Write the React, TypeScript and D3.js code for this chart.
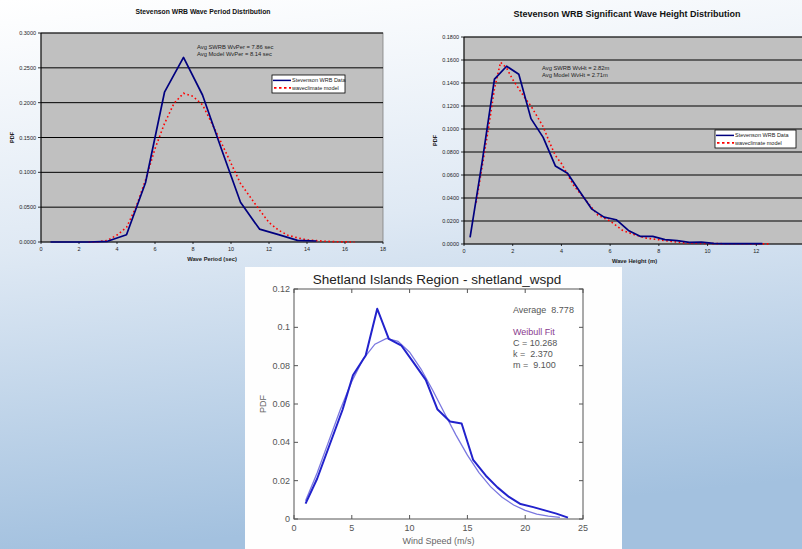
import React from 'react';
import * as d3 from 'd3';

// ---- chart 1: wave period ----
const periodX = [0.5, 1.5, 2.5, 3.5, 4.5, 5.5, 6.5, 7.5, 8.5, 9.5, 10.5, 11.5, 12.5, 13.5, 14.5];
const periodData = [0, 0, 0, 0.001, 0.0105, 0.085, 0.215, 0.265, 0.211, 0.133, 0.057, 0.0185, 0.0105, 0.0024, 0.0014];
const periodModelX = [2.5, 3, 3.5, 4, 4.5, 5, 5.5, 6, 6.5, 7, 7.5, 8, 8.5, 9, 9.5, 10, 10.5, 11, 11.5, 12, 12.5, 13, 13.5, 14, 14.5, 15, 15.5, 16, 16.5];
const periodModel = [0, 0.0003, 0.0024, 0.01, 0.021, 0.05, 0.089, 0.134, 0.17, 0.199, 0.2136, 0.209, 0.197, 0.17, 0.142, 0.113, 0.084, 0.065, 0.046, 0.028, 0.017, 0.0096, 0.006, 0.003, 0.002, 0.001, 0.0004, 0.0002, 0];

// ---- chart 2: wave height ----
const heightX = [0.25, 0.75, 1.25, 1.75, 2.25, 2.75, 3.25, 3.75, 4.25, 4.75, 5.25, 5.75, 6.25, 6.75, 7.25, 7.75, 8.25, 8.75, 9.25, 9.75, 10.25, 10.75, 11.25, 11.75, 12.25];
const heightData = [0.0058, 0.072, 0.1433, 0.1546, 0.1476, 0.109, 0.0927, 0.0679, 0.0615, 0.0457, 0.0303, 0.0234, 0.0211, 0.0118, 0.0066, 0.0066, 0.0038, 0.003, 0.0014, 0.0017, 0.0006, 0.0003, 0.0003, 0.0003, 0.0003];
const heightModelX = [0.5, 0.75, 1, 1.25, 1.5, 1.75, 2, 2.25, 2.5, 2.75, 3, 3.25, 3.5, 3.75, 4, 4.5, 5, 5.5, 6, 6.5, 7, 7.5, 8, 8.5, 9, 10, 11, 12.5];
const heightModel = [0.036, 0.068, 0.1, 0.135, 0.158, 0.153, 0.143, 0.135, 0.127, 0.12, 0.111, 0.102, 0.089, 0.077, 0.07, 0.051, 0.038, 0.025, 0.02, 0.012, 0.008, 0.005, 0.0037, 0.0023, 0.001, 0.0004, 0.0002, 0.0001];

// ---- chart 3: shetland wind speed ----
const windX = [1.0, 2.0, 3.1, 4.2, 5.1, 6.2, 7.2, 8.2, 9.3, 10.3, 11.4, 12.4, 13.5, 14.5, 15.5, 16.6, 17.6, 18.6, 19.6, 20.7, 21.7, 22.7, 23.7];
const windData = [0.008, 0.021, 0.039, 0.057, 0.075, 0.0853, 0.1097, 0.094, 0.0904, 0.082, 0.0726, 0.0573, 0.0509, 0.0498, 0.0308, 0.0226, 0.0165, 0.0115, 0.0078, 0.0062, 0.0045, 0.0028, 0.0007];
const weibullX = [1, 2, 3, 4, 5, 6, 7, 8, 9, 10, 11, 12, 13, 14, 15, 16, 17, 18, 19, 20, 21, 22, 23];
const weibullFit = [0.0095, 0.024, 0.0405, 0.057, 0.0718, 0.0836, 0.0912, 0.0942, 0.0927, 0.087, 0.0781, 0.0672, 0.0554, 0.0439, 0.0333, 0.0242, 0.0169, 0.0113, 0.0073, 0.0045, 0.0026, 0.0015, 0.0008];

const legendNames = ['Stevenson WRB Data', 'waveclimate model'];

type ExcelProps = {
  box: [number, number, number, number];
  xMax: number;
  yMax: number;
  yStep: number;
  title: string;
  titleX: number;
  titleY: number;
  titleSize: number;
  xLabel: string;
  yLabelX: number;
  avgLines: string[];
  avgPos: [number, number];
  legend: [number, number, number, number];
  dataX: number[];
  data: number[];
  modelX: number[];
  model: number[];
};

function ExcelChart(p: ExcelProps) {
  const [x0, y0, x1, y1] = p.box;
  const x = d3.scaleLinear().domain([0, p.xMax]).range([x0, x1]);
  const y = d3.scaleLinear().domain([0, p.yMax]).range([y1, y0]);
  const yTicks = d3.range(0, p.yMax + p.yStep / 2, p.yStep);
  // ticks past the page edge are left out
  const xTicks = d3.range(0, p.xMax + 1, 2).filter(t => x(t) < 795);
  const line = d3.line<[number, number]>().x(d => x(d[0])).y(d => y(d[1]));
  const dataPts = p.dataX.map((v, i) => [v, p.data[i]] as [number, number]);
  const modelPts = p.modelX.map((v, i) => [v, p.model[i]] as [number, number]);
  const f = d3.format('.4f');
  const [lx, ly, lw, lh] = p.legend;
  const font = 'Arial, "Liberation Sans", sans-serif';
  return (
    <g fontFamily={font}>
      <text x={p.titleX} y={p.titleY} textAnchor="middle" fontSize={p.titleSize} fontWeight="bold" fill="#111">{p.title}</text>
      <rect x={x0} y={y0} width={x1 - x0} height={y1 - y0} fill="#c0c0c0" stroke="#808080" strokeWidth={0.8} />
      {yTicks.map((t, i) => (
        <g key={'y' + i}>
          {i > 0 && <line x1={x0} x2={x1} y1={y(t)} y2={y(t)} stroke="#000" strokeWidth={1} />}
          <line x1={x0 - 3} x2={x0} y1={y(t)} y2={y(t)} stroke="#000" strokeWidth={0.8} />
          <text x={x0 - 5} y={y(t) + 2} textAnchor="end" fontSize={5.5} fill="#222">{f(t)}</text>
        </g>
      ))}
      {xTicks.map((t, i) => (
        <g key={'x' + i}>
          <line x1={x(t)} x2={x(t)} y1={y1} y2={y1 + 2} stroke="#000" strokeWidth={0.8} />
          <text x={x(t)} y={y1 + 9} textAnchor="middle" fontSize={5.5} fill="#222">{t}</text>
        </g>
      ))}
      <line x1={x0} x2={x0} y1={y0} y2={y1} stroke="#000" strokeWidth={1} />
      <line x1={x0} x2={x1} y1={y1} y2={y1} stroke="#000" strokeWidth={1} />
      <path d={line(modelPts) || ''} fill="none" stroke="#ff0000" strokeWidth={1.6} strokeDasharray="1.6,2.6" />
      <path d={line(dataPts) || ''} fill="none" stroke="#00007f" strokeWidth={1.7} strokeLinejoin="round" />
      <text x={(x0 + x1) / 2} y={y1 + 19} textAnchor="middle" fontSize={5.8} fontWeight="bold" fill="#222">{p.xLabel}</text>
      <text transform={`translate(${p.yLabelX},${(y0 + y1) / 2}) rotate(-90)`} textAnchor="middle" fontSize={5.5} fontWeight="bold" fill="#222">PDF</text>
      {p.avgLines.map((s, i) => (
        <text key={s} x={p.avgPos[0]} y={p.avgPos[1] + i * 7} fontSize={5.8} fill="#222">{s}</text>
      ))}
      <rect x={lx} y={ly} width={lw} height={lh} fill="#fff" stroke="#000" strokeWidth={0.8} />
      <line x1={lx + 1} x2={lx + 19} y1={ly + lh * 0.3} y2={ly + lh * 0.3} stroke="#00007f" strokeWidth={1.5} />
      <line x1={lx + 2} x2={lx + 19} y1={ly + lh * 0.72} y2={ly + lh * 0.72} stroke="#ff0000" strokeWidth={1.8} strokeDasharray="2.5,2.5" />
      {legendNames.map((s, i) => (
        <text key={s} x={lx + 20} y={ly + lh * (0.3 + 0.42 * i) + 2} fontSize={5.5} fill="#222">{s}</text>
      ))}
    </g>
  );
}

function ShetlandChart() {
  const [bx0, by0, bx1, by1] = [245, 267, 622, 549];
  const [x0, y0, x1, y1] = [294, 289, 583, 519];
  const x = d3.scaleLinear().domain([0, 25]).range([x0, x1]);
  const y = d3.scaleLinear().domain([0, 0.12]).range([y1, y0]);
  const xTicks = x.ticks(5);
  const yTicks = d3.range(0, 0.121, 0.02);
  const line = d3.line<[number, number]>().x(d => x(d[0])).y(d => y(d[1]));
  const dataPts = windX.map((v, i) => [v, windData[i]] as [number, number]);
  const fitPts = weibullX.map((v, i) => [v, weibullFit[i]] as [number, number]);
  const yFmt = (t: number) => (t === 0 ? '0' : String(+t.toFixed(2)));
  const font = 'Arial, "Liberation Sans", sans-serif';
  const note = ['Average  8.778', '', 'Weibull Fit', 'C = 10.268', 'k =  2.370', 'm =  9.100'];
  return (
    <g fontFamily={font}>
      <rect x={bx0} y={by0} width={bx1 - bx0} height={by1 - by0} fill="#fefefe" />
      <text x={437} y={284} textAnchor="middle" fontSize={13.5} fill="#222">Shetland Islands Region - shetland_wspd</text>
      <rect x={x0} y={y0} width={x1 - x0} height={y1 - y0} fill="#fff" stroke="#555" strokeWidth={1} />
      {yTicks.map((t, i) => (
        <g key={'y' + i}>
          <line x1={x0} x2={x0 + 4} y1={y(t)} y2={y(t)} stroke="#555" />
          <line x1={x1 - 4} x2={x1} y1={y(t)} y2={y(t)} stroke="#555" />
          <text x={x0 - 4} y={y(t) + 3} textAnchor="end" fontSize={9} fill="#555">{yFmt(t)}</text>
        </g>
      ))}
      {xTicks.map((t, i) => (
        <g key={'x' + i}>
          <line x1={x(t)} x2={x(t)} y1={y1} y2={y1 - 4} stroke="#555" />
          <line x1={x(t)} x2={x(t)} y1={y0} y2={y0 + 4} stroke="#555" />
          <text x={x(t)} y={y1 + 12} textAnchor="middle" fontSize={9} fill="#555">{t}</text>
        </g>
      ))}
      <path d={line(fitPts) || ''} fill="none" stroke="#7b78e0" strokeWidth={1.3} />
      <path d={line(dataPts) || ''} fill="none" stroke="#2222cc" strokeWidth={2} strokeLinejoin="round" />
      <text x={(x0 + x1) / 2} y={544} textAnchor="middle" fontSize={9} fill="#666">Wind Speed (m/s)</text>
      <text transform={`translate(266,${(y0 + y1) / 2}) rotate(-90)`} textAnchor="middle" fontSize={9} fill="#666">PDF</text>
      {note.map((s, i) => (
        <text key={i} x={513} y={313 + i * 11} fontSize={9} style={{ whiteSpace: 'pre' }} fill={i === 2 ? '#8a3b8e' : '#555'}>{s}</text>
      ))}
    </g>
  );
}

export default function App() {
  return (
    <svg width={802} height={549} style={{ position: 'absolute', left: 0, top: 0 }}>
      <defs>
        <linearGradient id="bg" x1="0" y1="0" x2="0.15" y2="1">
          <stop offset="0" stopColor="#ffffff" />
          <stop offset="0.45" stopColor="#dfe9f4" />
          <stop offset="1" stopColor="#a3c1df" />
        </linearGradient>
      </defs>
      <rect width={802} height={549} fill="url(#bg)" />
      <ExcelChart
        box={[41, 33, 383, 242]} xMax={18} yMax={0.3} yStep={0.05}
        title="Stevenson WRB Wave Period Distribution" titleX={203} titleY={14} titleSize={6.8}
        xLabel="Wave Period (sec)" yLabelX={14}
        avgLines={['Avg SWRB WvPer = 7.86 sec', 'Avg Model WvPer = 8.14 sec']} avgPos={[197, 49]}
        legend={[272, 75, 73, 18]}
        dataX={periodX} data={periodData} modelX={periodModelX} model={periodModel}
      />
      <ExcelChart
        box={[464, 37, 805, 244]} xMax={14} yMax={0.18} yStep={0.02}
        title="Stevenson WRB Significant Wave Height Distribution" titleX={627} titleY={17} titleSize={9}
        xLabel="Wave Height (m)" yLabelX={437}
        avgLines={['Avg SWRB WvHt = 2.82m', 'Avg Model WvHt = 2.71m']} avgPos={[542, 70]}
        legend={[715, 130, 81, 18]}
        dataX={heightX} data={heightData} modelX={heightModelX} model={heightModel}
      />
      <ShetlandChart />
    </svg>
  );
}
